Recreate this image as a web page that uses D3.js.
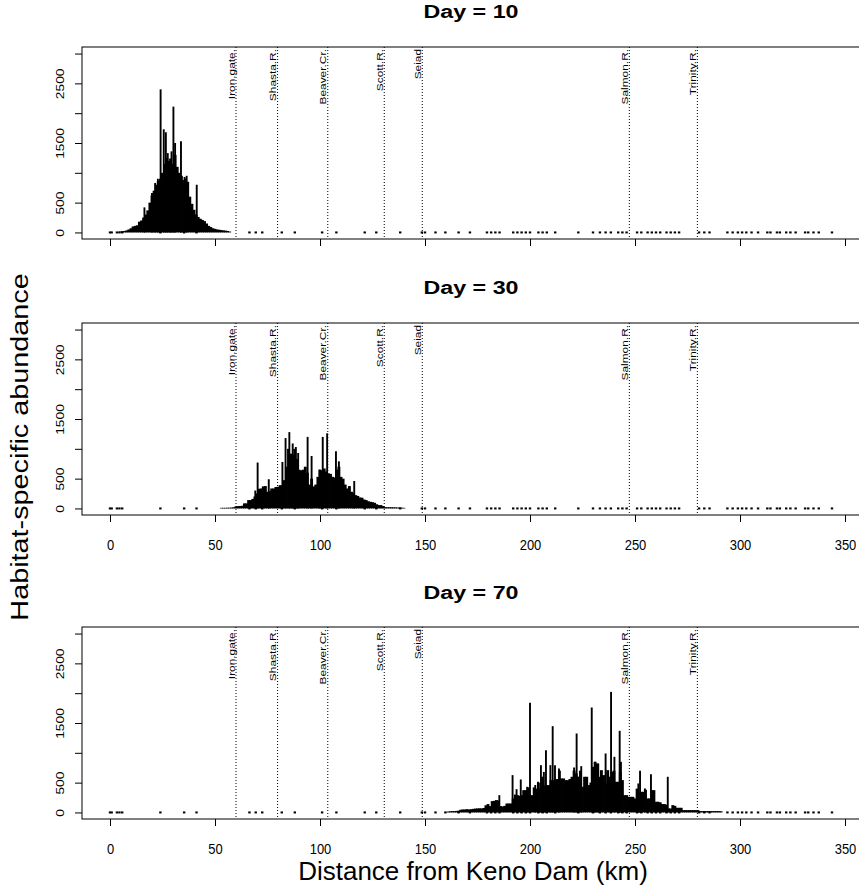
<!DOCTYPE html>
<html>
<head>
<meta charset="utf-8">
<script src="https://cdn.jsdelivr.net/npm/d3@7"></script>
<style>
  body { margin: 0; background: #fff; }
  svg { display: block; }
  text { font-family: "Liberation Sans", Arial, Helvetica, sans-serif; fill: #000; }
</style>
</head>
<body>
<svg id="chart" width="859" height="895"></svg>
<script>
// ---- data ----
const days = [10, 30, 70];

const sites = ['Iron.gate.', 'Shasta.R.', 'Beaver.Cr.', 'Scott.R.', 'Seiad', 'Salmon.R.', 'Trinity.R.'];
const siteKm = [60, 79.8, 103.7, 130.6, 148.7, 247.3, 279.7];

const xTicks = [0, 50, 100, 150, 200, 250, 300, 350];
const yTicks = [0, 500, 1000, 1500, 2000, 2500, 3000];
const yLabelled = [0, 500, 1500, 2500];

// habitat units with (near) zero abundance
const zeroKm = [0, 0.8, 3.3, 4.5, 5.8, 24, 35.3, 41.2, 66.4, 69.4, 72.5, 81.8, 88, 101, 107.8,
  121.3, 126.8, 138.2, 148.5, 150, 155, 159.7, 166, 171.4, 179.5, 181.5, 183.5, 185.5, 192, 194,
  196, 198, 200, 204, 206, 208, 212, 223, 230, 233.3, 236, 238.5, 242, 244, 246, 251, 253, 256,
  258, 260, 262, 265, 267, 269, 271, 280.5, 283, 285.5, 294, 296.5, 299, 301, 303, 305.5, 308.6,
  313, 314.5, 317.6, 319, 322, 324, 326.5, 331, 332.5, 335, 337.5, 343.8];

// first km of each day's body array (one value per km)
const bodyStart = [5, 53, 160];

const body10 = [15, 20, 25, 35, 50, 70, 100, 110, 120, 180, 200, 250, 300, 370, 500, 620, 700, 800,
  860, 900, 1000, 1150, 1250, 1200, 1100, 1150, 1300, 1100, 1000, 950, 880, 900, 850, 600, 480, 380,
  300, 260, 230, 210, 190, 150, 110, 90, 70, 60, 50, 45, 40, 35, 30, 25, 15];

const body30 = [10, 10, 10, 12, 12, 15, 20,
  35, 40, 40, 45, 85, 85, 140, 140, 160, 200,
  250, 330, 335, 370, 375, 280, 290, 335, 335, 360,
  363, 390, 390, 475, 700, 1000, 920, 900, 1000, 830,
  650, 640, 650, 700, 600, 400, 500, 370, 400, 530,
  650, 640, 670, 620, 590, 580, 530, 520, 650, 700,
  530, 500, 400, 335, 375, 280, 260, 223, 210, 184,
  180, 150, 140, 120, 112, 105, 95, 70, 56, 56,
  40, 22, 20, 20, 20, 18, 18, 15, 15, 12,
  10];

const body70 = [5, 15, 20, 22, 22, 25, 30, 45, 50, 50,
  55, 50, 55, 60, 65, 67, 70, 67, 75, 120,
  140, 106, 190, 195, 207, 200, 106, 100, 110, 150,
  150, 150, 235, 300, 290, 280, 290, 374, 374, 420,
  290, 290, 420, 400, 500, 402, 600, 450, 458, 458,
  542, 542, 542, 560, 700, 570, 570, 542, 542, 560,
  598, 700, 654, 600, 700, 430, 598, 598, 458, 500,
  765, 849, 821, 598, 709, 626, 486, 709, 600, 681,
  700, 514, 514, 681, 542, 290, 290, 262, 262, 262,
  235, 400, 346, 346, 346, 380, 235, 235, 374, 374,
  179, 179, 170, 140, 140, 130, 67, 67, 123, 110,
  78, 78, 78, 39, 39, 39, 39, 39, 39, 39,
  39, 22, 22, 22, 22, 22, 22, 22, 22, 22,
  22, 20];

// tall single habitat units [km, abundance]
const spikes10 = [[16.4, 420], [20, 660], [21.5, 830], [22.8, 900], [24.1, 2400], [25.6, 1730],
  [26.6, 1680], [27.5, 1330], [28.6, 1240], [29.3, 1360], [30.2, 2110], [31, 1500], [33.8, 1530],
  [35.5, 930], [36.5, 950], [41.3, 800]];

const spikes30 = [[69.2, 300], [70.3, 770], [75.6, 490], [82.1, 780], [83.6, 1180], [85.4, 1280],
  [87, 1090], [88.5, 1030], [89.6, 930], [94.1, 1200], [96, 880], [99.8, 650], [101.3, 1200],
  [103.4, 1260], [107.6, 960], [109, 790], [116.3, 460]];

const spikes70 = [[185.4, 290], [191.7, 626], [193.6, 390], [195.6, 553], [198.7, 430], [200, 1838],
  [202.5, 460], [203.8, 514], [205.2, 793], [206.6, 680], [207.6, 1045], [209.7, 793], [210.8, 1447],
  [211.9, 793], [213.8, 737], [221, 754], [222.2, 1324], [224.4, 776], [229.4, 1760], [231, 850],
  [232.5, 820], [236, 989], [238.6, 2022], [240.2, 933], [242.7, 1369], [243.3, 849], [251.6, 486],
  [252.4, 698], [254.7, 402], [257.6, 642], [265.6, 598]];

const bodies = [body10, body30, body70];
const spikes = [spikes10, spikes30, spikes70];

// ---- layout ----
const svg = d3.select('#chart');
const boxL = 82, boxR = 866;
const panelTop = [47, 323, 627];
const panelH = 192;
const titleY = [18, 294, 599];

const x = d3.scaleLinear().domain([0, 350]).range([110, 845]);

days.forEach((day, p) => {
  const top = panelTop[p];
  const bot = top + panelH;
  const y = d3.scaleLinear().domain([-110, 3110]).range([bot, top]);
  const g = svg.append('g').attr('class', `panel day${day}`);

  // title
  g.append('text')
    .attr('x', 471).attr('y', titleY[p])
    .attr('text-anchor', 'middle')
    .attr('font-weight', 'bold')
    .attr('font-size', 18)
    .attr('textLength', 95)
    .attr('lengthAdjust', 'spacingAndGlyphs')
    .text(`Day =  ${day}`);

  // tributary / site markers
  g.selectAll('.site').data(sites).join('line')
    .attr('class', 'site')
    .attr('x1', (d, i) => x(siteKm[i])).attr('x2', (d, i) => x(siteKm[i]))
    .attr('y1', top).attr('y2', bot)
    .attr('stroke', '#000').attr('stroke-width', 1)
    .attr('stroke-dasharray', '1,2');

  g.selectAll('.sitelab').data(sites).join('text')
    .attr('class', 'sitelab')
    .attr('transform', (d, i) => `translate(${x(siteKm[i]) - 1.5},${top + 2}) scale(1,1.25) rotate(-90)`)
    .attr('text-anchor', 'end')
    .attr('font-size', 9.5)
    .text(d => d);

  // near-zero habitat units
  g.selectAll('.zero').data(zeroKm).join('rect')
    .attr('class', 'zero')
    .attr('x', d => x(d) - 1.2).attr('y', y(0) - 1)
    .attr('width', 2.4).attr('height', 2)
    .attr('fill', '#000');

  // abundance body (one bar per km)
  g.selectAll('.body').data(bodies[p]).join('line')
    .attr('class', 'body')
    .attr('x1', (d, i) => x(bodyStart[p] + i)).attr('x2', (d, i) => x(bodyStart[p] + i))
    .attr('y1', y(0)).attr('y2', d => y(d))
    .attr('stroke', '#000').attr('stroke-width', 2.9);

  // tall single units
  g.selectAll('.spike').data(spikes[p]).join('line')
    .attr('class', 'spike')
    .attr('x1', d => x(d[0])).attr('x2', d => x(d[0]))
    .attr('y1', y(0)).attr('y2', d => y(d[1]))
    .attr('stroke', '#000').attr('stroke-width', 1.9);

  // plot box
  g.append('rect')
    .attr('x', boxL).attr('y', top)
    .attr('width', boxR - boxL).attr('height', panelH)
    .attr('fill', 'none').attr('stroke', '#000').attr('stroke-width', 1);

  // x axis
  const xAxis = d3.axisBottom(x).tickValues(xTicks).tickSize(7)
    .tickFormat(p === 0 ? () => '' : d3.format('d'));
  const gx = g.append('g').attr('transform', `translate(0,${bot})`).call(xAxis);
  gx.select('.domain').remove();
  gx.selectAll('text')
    .attr('y', null).attr('dy', null)
    .attr('font-size', 13)
    .attr('transform', 'translate(0,35) scale(1,1.15)');
  gx.attr('font-family', null).attr('font-size', null);

  // y axis
  const yAxis = d3.axisLeft(y).tickValues(yTicks).tickSize(7)
    .tickFormat(d => (yLabelled.includes(d) ? d : ''));
  const gy = g.append('g').attr('transform', `translate(${boxL},0)`).call(yAxis);
  gy.select('.domain').remove();
  gy.selectAll('text')
    .attr('x', null).attr('dy', null)
    .attr('text-anchor', 'middle')
    .attr('font-size', 11.5)
    .attr('transform', 'translate(-18.5,0) scale(1,1.2) rotate(-90)');
  gy.attr('font-family', null).attr('font-size', null);
});

// axis titles
svg.append('text')
  .attr('transform', 'translate(28,447) scale(1,1.2) rotate(-90)')
  .attr('text-anchor', 'middle')
  .attr('font-size', 24)
  .text('Habitat-specific abundance');

svg.append('text')
  .attr('x', 473).attr('y', 880)
  .attr('text-anchor', 'middle')
  .attr('font-size', 26)
  .text('Distance from Keno Dam (km)');
</script>
</body>
</html>
